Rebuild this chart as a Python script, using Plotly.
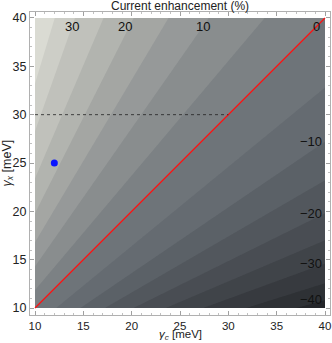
import numpy as np
import plotly.graph_objects as go

# ---- data ----
# enhancement (%) as a function of the ratio gamma_x / gamma_c (contour crossings)
ratio_pts = [0.25, 0.27, 0.314, 0.365, 0.425, 0.495, 0.58, 0.68, 0.82, 1.0,
             1.185, 1.43, 1.68, 1.98, 2.34, 2.83, 3.32, 4.0]
enh_pts = [-42.6, -40, -35, -30, -25, -20, -15, -10, -5, 0,
           5, 10, 15, 20, 25, 30, 35, 39.8]
levels = dict(start=-40, end=40, size=5)

label_text = ["30", "20", "10", "0", "\u221210", "\u221220", "\u221230", "\u221240"]

diag_x = [10, 40]
diag_y = [10, 40]
dotted_x = [10, 30]
dotted_y = [30, 30]
point_x = [12]
point_y = [25]

# band colours, dark -> light (18 bands incl. below first / above last level)
band_colors = ["#24262a", "#2e3135", "#373a3f", "#404449", "#494d53", "#52575d",
               "#5b6167", "#656b71", "#6e7479", "#7c8184", "#898d8e", "#969999",
               "#a4a6a3", "#b2b4af", "#c0c1bb", "#cdcec7", "#dadbd3", "#e8e8e0"]

# ---- field ----
g = np.linspace(10, 40, 301)
GX, GY = np.meshgrid(g, g)
Z = np.interp(np.log(GY / GX), np.log(ratio_pts), enh_pts)

n = len(band_colors)
colorscale = [[k / (n - 1), c] for k, c in enumerate(band_colors)]

fig = go.Figure()
fig.add_trace(go.Contour(
    x=g, y=g, z=Z,
    contours=dict(start=levels["start"], end=levels["end"], size=levels["size"],
                  coloring="fill", showlines=False),
    colorscale=colorscale, showscale=False, line=dict(width=0),
    hoverinfo="skip"))

fig.add_trace(go.Scatter(x=diag_x, y=diag_y, mode="lines",
                         line=dict(color="#ff1010", width=1.3), hoverinfo="skip"))
fig.add_trace(go.Scatter(x=dotted_x, y=dotted_y, mode="lines",
                         line=dict(color="#222222", width=0.8, dash="dot"), hoverinfo="skip"))
fig.add_trace(go.Scatter(x=point_x, y=point_y, mode="markers",
                         marker=dict(color="#0a14ff", size=7), hoverinfo="skip"))

# contour labels (positions on the lines)
label_pos = [(13.8, 39.1), (19.3, 39.1), (27.4, 39.1), (39.1, 39.1),
             (38.5, 27.2), (38.5, 19.8), (38.5, 14.6), (38.5, 10.9)]
for t, (lx, ly) in zip(label_text, label_pos):
    fig.add_annotation(x=lx, y=ly, text=t, showarrow=False,
                       font=dict(size=13, color="#111111"))

fig.add_annotation(xref="paper", yref="paper", x=0.5, y=1 + 6 / 303, yanchor="middle",
                   text="Current enhancement (%)", showarrow=False,
                   font=dict(size=12, color="#222222"))
fig.add_annotation(xref="paper", yref="paper", x=0.5, y=-28 / 303, yanchor="bottom",
                   text="<i>γ<sub>c</sub></i> [meV]", showarrow=False, borderpad=0,
                   font=dict(size=11.5, color="#222222"))
fig.add_annotation(xref="paper", yref="paper", x=-23 / 300, y=0.5, xanchor="center",
                   text="<i>γ<sub>x</sub></i> [meV]", showarrow=False, textangle=-90,
                   font=dict(size=12.5, color="#222222"))

axis_common = dict(showgrid=False, zeroline=False, showline=True, mirror="ticks",
                   linecolor="#b0b0b0", linewidth=1, ticks="inside", ticklen=4,
                   tickcolor="#a0a0a0", tickwidth=1, automargin=False,
                   tick0=10, dtick=5, ticklabeloverflow="allow",
                   minor=dict(ticks="inside", ticklen=2, dtick=1, tickcolor="#c0c0c0"))

fig.update_layout(
    width=332, height=343,
    margin=dict(l=30, r=2, t=12, b=28),
    paper_bgcolor="white", plot_bgcolor="white",
    font=dict(family="Liberation Sans, Arial, sans-serif"),
    showlegend=False,
    xaxis=dict(range=[9.483, 40.517], tickfont=dict(size=11.5, color="#222222"),
               **axis_common),
    yaxis=dict(range=[9.276, 40.62], tickfont=dict(size=12.5, color="#222222"),
               **axis_common),
)

fig.write_html("out.html", config={"displayModeBar": False},
               post_script="document.body.style.margin='0';document.body.style.overflow='hidden';")
